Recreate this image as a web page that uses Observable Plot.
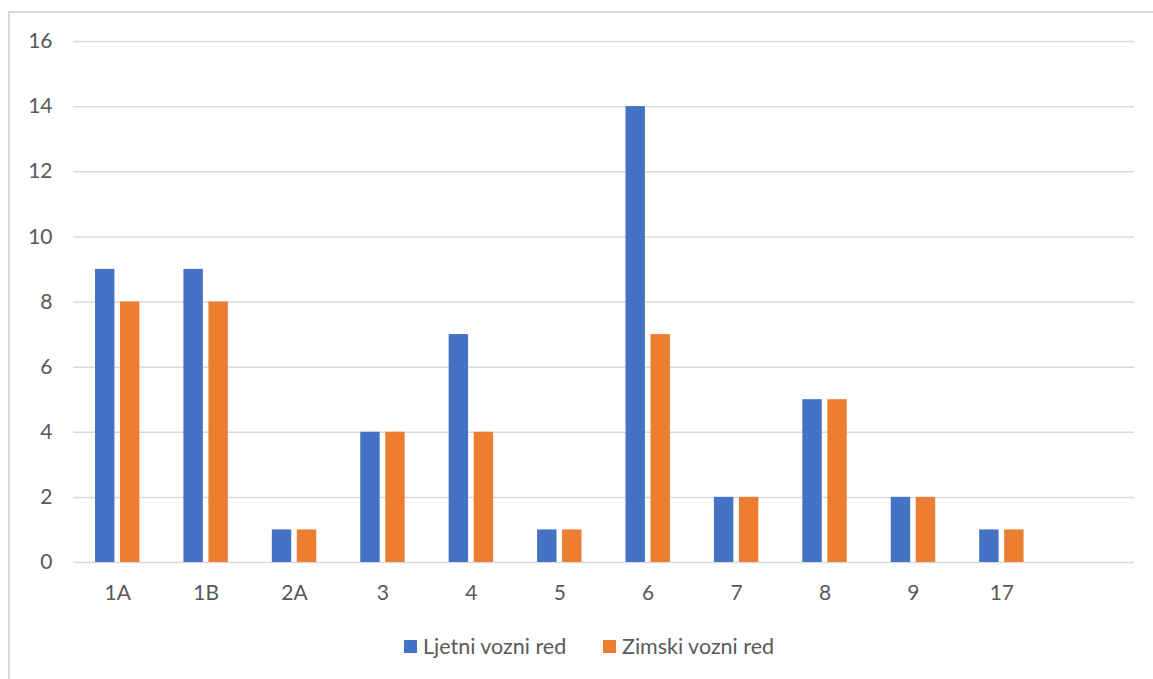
<!DOCTYPE html>
<html>
<head>
<meta charset="utf-8">
<script src="https://cdn.jsdelivr.net/npm/d3@7"></script>
<script src="https://cdn.jsdelivr.net/npm/@observablehq/plot@0.6"></script>
<style>
  html, body { margin: 0; padding: 0; background: #fff; }
  body { width: 1153px; height: 679px; position: relative; overflow: hidden; font-family: Lato, "Open Sans", sans-serif; }
  #frame { position: absolute; left: 8px; top: 11px; width: 1300px; height: 800px; border: 2px solid #d9d9d9; box-sizing: border-box; }
  #chart { position: absolute; left: 0; top: 0; }
  #legend { position: absolute; top: 633px; left: 0; width: 1153px; height: 26px; font-size: 21.5px; color: #595959; }
  .item { position: absolute; top: 0; display: flex; align-items: center; height: 26px; white-space: nowrap; }
  .sw { width: 13px; height: 13px; margin-right: 6px; }
</style>
</head>
<body>
<div id="frame"></div>
<div id="chart"></div>
<div id="legend"></div>
<script>
const categories = ["1A", "1B", "2A", "3", "4", "5", "6", "7", "8", "9", "17"];
const slots = [...categories, ""]; // empty trailing category slot
const seriesNames = ["Ljetni vozni red", "Zimski vozni red"];
const ljetni = [9, 9, 1, 4, 7, 1, 14, 2, 5, 2, 1];
const zimski = [8, 8, 1, 4, 4, 1, 7, 2, 5, 2, 1];
const colors = ["#4472c4", "#ed7d31"];
const yTicks = [0, 2, 4, 6, 8, 10, 12, 14, 16];
const legendLeft = [404, 603];

const dataL = categories.map((c, i) => ({cat: c, value: ljetni[i]}));
const dataZ = categories.map((c, i) => ({cat: c, value: zimski[i]}));

const plot = Plot.plot({
  width: 1153,
  height: 610,
  marginLeft: 73,
  marginRight: 19,
  marginTop: 41,
  marginBottom: 48,
  style: {fontFamily: "Lato, 'Open Sans', sans-serif", fontSize: "21px", color: "#595959", background: "transparent"},
  x: {type: "band", domain: slots, padding: 0, round: false, label: null, tickSize: 0, tickPadding: 23},
  y: {domain: [0, 16], ticks: yTicks, label: null, tickSize: 0, tickPadding: 21, tickFormat: d => String(d)},
  marks: [
    Plot.ruleY(yTicks, {stroke: "#d9d9d9", strokeWidth: 1.5}),
    Plot.barY(dataL, {x: "cat", y: "value", fill: colors[0], insetLeft: 22, insetRight: 47}),
    Plot.barY(dataZ, {x: "cat", y: "value", fill: colors[1], insetLeft: 47, insetRight: 22})
  ]
});
document.getElementById("chart").appendChild(plot);

const legend = document.getElementById("legend");
seriesNames.forEach((name, i) => {
  const item = document.createElement("div");
  item.className = "item";
  item.style.left = legendLeft[i] + "px";
  const sw = document.createElement("div");
  sw.className = "sw";
  sw.style.background = colors[i];
  const t = document.createElement("span");
  t.textContent = name;
  item.appendChild(sw);
  item.appendChild(t);
  legend.appendChild(item);
});
</script>
</body>
</html>
